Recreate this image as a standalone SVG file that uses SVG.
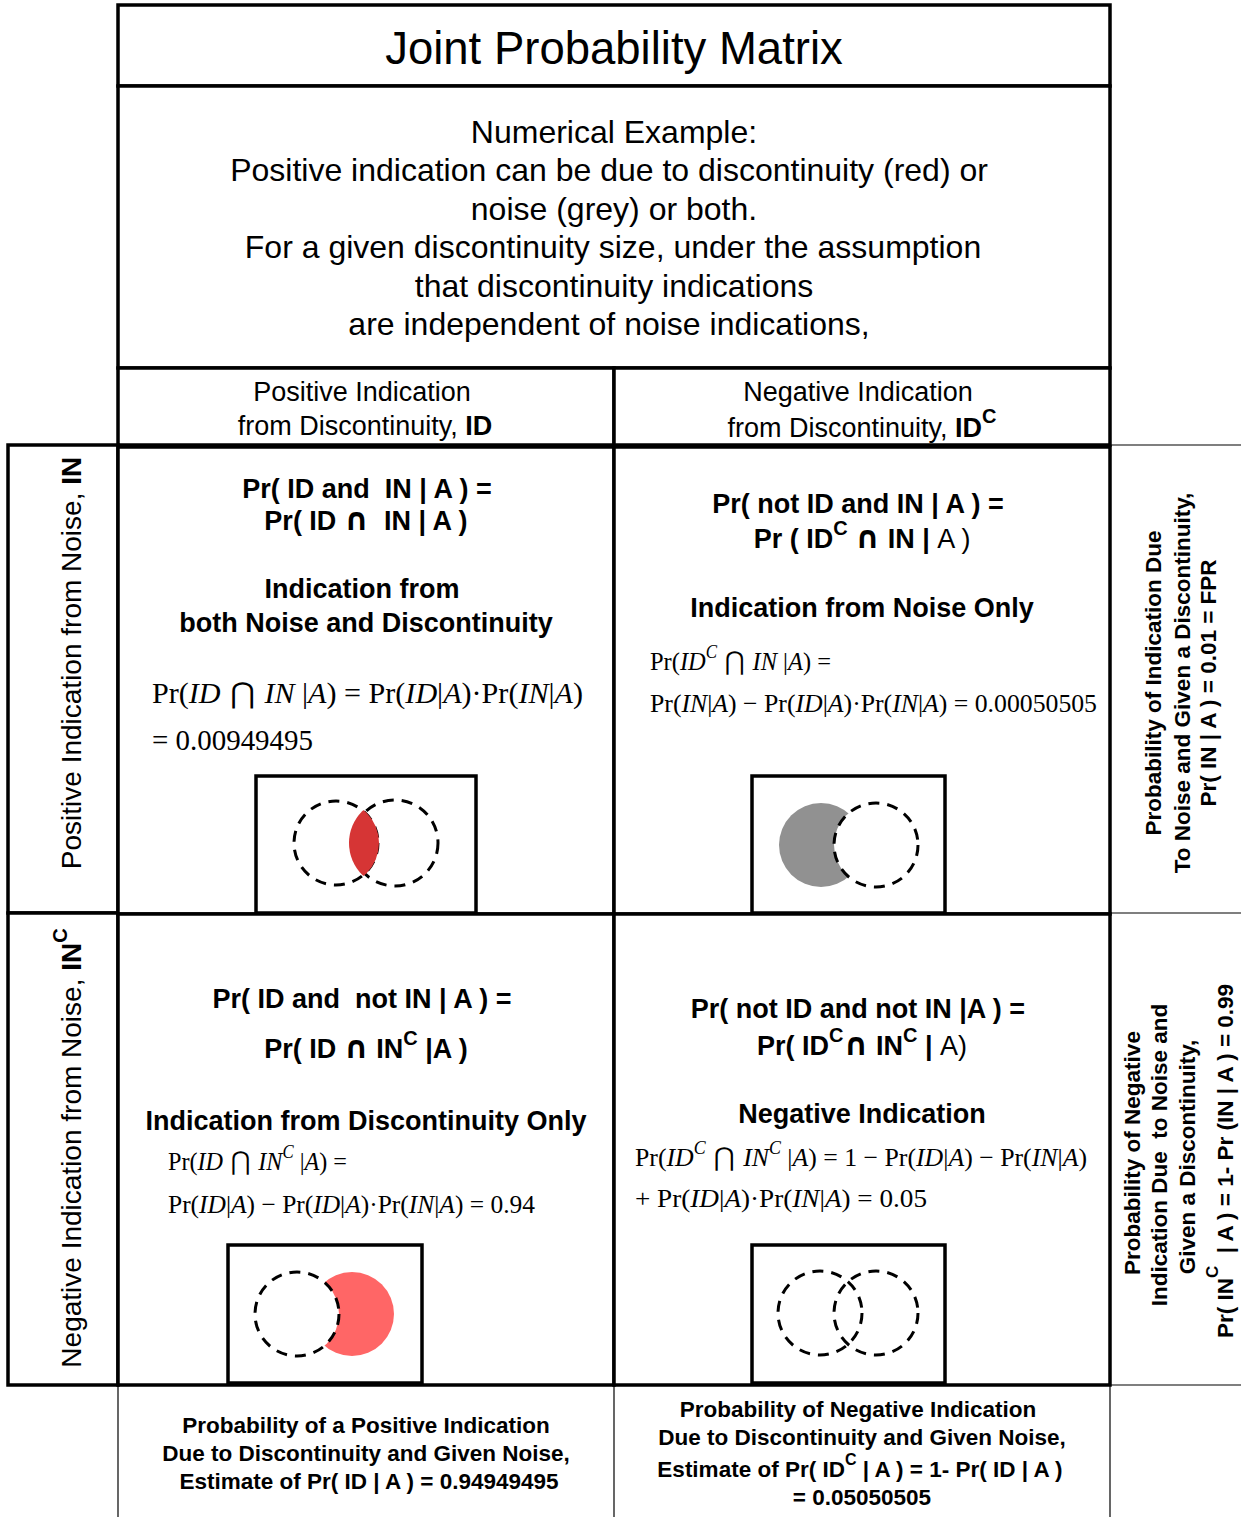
<svg xmlns="http://www.w3.org/2000/svg" width="1241" height="1517" viewBox="0 0 1241 1517">
<style>
text{font-family:"Liberation Sans",Arial,sans-serif;fill:#000;white-space:pre}
.b{font-weight:bold}
.n{font-weight:normal}
.m{font-family:"Liberation Serif","Times New Roman",serif}
.i{font-style:italic}
.cap{font-family:"DejaVu Sans",sans-serif;font-weight:normal}
.capb{font-family:"DejaVu Sans",sans-serif;font-weight:bold;font-size:31px}
.box{fill:#fff;stroke:#000;stroke-width:3.5}
.vbox{fill:#fff;stroke:#000;stroke-width:3.5}
.thin{stroke:#000;stroke-width:1.2;fill:none}
.dash{fill:none;stroke:#000;stroke-width:3;stroke-dasharray:11 8}
.dashw{fill:#fff;stroke:#000;stroke-width:3;stroke-dasharray:11 8}
.c{text-anchor:middle}
</style>
<defs>
<clipPath id="clipL"><circle cx="336" cy="843" r="43"/></clipPath>
</defs>
<rect width="1241" height="1517" fill="#fff"/>

<g id="title">
<rect class="box" x="118" y="5" width="992" height="81"/>
<text class="c" x="614" y="64" font-size="45.5">Joint Probability Matrix</text>
</g>

<g id="example">
<rect class="box" x="118" y="86" width="992" height="282"/>
<text class="c" x="614" y="143" font-size="32">Numerical Example:</text>
<text class="c" x="609" y="181" font-size="32">Positive indication can be due to discontinuity (red) or</text>
<text class="c" x="614" y="220" font-size="32">noise (grey) or both.</text>
<text class="c" x="613" y="258" font-size="32">For a given discontinuity size, under the assumption</text>
<text class="c" x="614" y="297" font-size="32">that discontinuity indications</text>
<text class="c" x="609" y="335" font-size="32">are independent of noise indications,</text>
</g>

<g id="header-pos">
<rect class="box" x="118" y="368" width="496" height="77"/>
<text class="c" x="362" y="401" font-size="27">Positive Indication</text>
<text class="c" x="365" y="435" font-size="27">from Discontinuity, <tspan class="b">ID</tspan></text>
</g>

<g id="header-neg">
<rect class="box" x="614" y="368" width="496" height="77"/>
<text class="c" x="858" y="401" font-size="27">Negative Indication</text>
<text class="c" x="862" y="437" font-size="27">from Discontinuity, <tspan class="b">ID</tspan><tspan class="b" font-size="20" dy="-14">C</tspan></text>
</g>

<g id="row-pos">
<rect class="box" x="8" y="445" width="110" height="468"/>
<text class="c" transform="translate(81,663) rotate(-90)" font-size="28">Positive Indication from Noise, <tspan class="b">IN</tspan></text>
</g>

<g id="row-neg">
<rect class="box" x="8" y="913" width="110" height="472"/>
<text class="c" transform="translate(81,1148) rotate(-90)" font-size="28">Negative Indication from Noise, <tspan class="b">IN</tspan><tspan class="b" font-size="20" dy="-14">C</tspan></text>
</g>

<g id="cell-id-in">
<rect class="box" x="118" y="447" width="496" height="467"/>
<text class="b c" x="367" y="498" font-size="27">Pr( ID and  IN | A ) =</text>
<text class="b c" x="366" y="530" font-size="27">Pr( ID <tspan class="capb">∩</tspan>  IN | A )</text>
<text class="b c" x="362" y="598" font-size="27">Indication from</text>
<text class="b c" x="366" y="632" font-size="27">both Noise and Discontinuity</text>
<text class="m" x="152" y="703" font-size="29" textLength="431" lengthAdjust="spacingAndGlyphs">Pr(<tspan class="i">ID</tspan><tspan class="cap"> ⋂ </tspan><tspan class="i">IN</tspan> |<tspan class="i">A</tspan>) = Pr(<tspan class="i">ID</tspan>|<tspan class="i">A</tspan>)·Pr(<tspan class="i">IN</tspan>|<tspan class="i">A</tspan>)</text>
<text class="m" x="152" y="750" font-size="29" textLength="161" lengthAdjust="spacingAndGlyphs">= 0.00949495</text>
<rect class="vbox" x="256" y="776" width="220" height="137"/>
<circle class="dash" cx="336" cy="843" r="42"/>
<circle class="dash" cx="395" cy="843" r="43"/>
<circle cx="394" cy="843" r="45" fill="#D63535" clip-path="url(#clipL)"/>
</g>

<g id="cell-idc-in">
<rect class="box" x="614" y="447" width="496" height="467"/>
<text class="b c" x="858" y="513" font-size="27">Pr( not ID and IN | A ) =</text>
<text class="b c" x="862" y="548" font-size="27">Pr ( ID<tspan font-size="20" dy="-13">C</tspan><tspan dy="13"> </tspan><tspan class="capb">∩</tspan> IN | <tspan class="n">A )</tspan></text>
<text class="b c" x="862" y="617" font-size="27">Indication from Noise Only</text>
<text class="m" x="650" y="670" font-size="26" textLength="181" lengthAdjust="spacingAndGlyphs">Pr(<tspan class="i">ID</tspan><tspan class="i" font-size="18" dy="-12">C</tspan><tspan dy="12" class="cap"> ⋂ </tspan><tspan class="i">IN</tspan> |<tspan class="i">A</tspan>) =</text>
<text class="m" x="650" y="712" font-size="26" textLength="447" lengthAdjust="spacingAndGlyphs">Pr(<tspan class="i">IN</tspan>|<tspan class="i">A</tspan>) − Pr(<tspan class="i">ID</tspan>|<tspan class="i">A</tspan>)·Pr(<tspan class="i">IN</tspan>|<tspan class="i">A</tspan>) = 0.00050505</text>
<rect class="vbox" x="752" y="776" width="193" height="137"/>
<circle cx="821" cy="845" r="42" fill="#919191"/>
<circle class="dashw" cx="876" cy="845" r="42"/>
</g>

<g id="cell-id-inc">
<rect class="box" x="118" y="914" width="496" height="471"/>
<text class="b c" x="362" y="1008" font-size="27">Pr( ID and  not IN | A ) =</text>
<text class="b c" x="366" y="1058" font-size="27">Pr( ID <tspan class="capb">∩</tspan> IN<tspan font-size="20" dy="-13">C</tspan><tspan dy="13"> |A )</tspan></text>
<text class="b c" x="366" y="1130" font-size="27">Indication from Discontinuity Only</text>
<text class="m" x="168" y="1170" font-size="26" textLength="179" lengthAdjust="spacingAndGlyphs">Pr(<tspan class="i">ID</tspan><tspan class="cap"> ⋂ </tspan><tspan class="i">IN</tspan><tspan class="i" font-size="18" dy="-12">C</tspan><tspan dy="12"> |</tspan><tspan class="i">A</tspan>) =</text>
<text class="m" x="168" y="1213" font-size="26" textLength="367" lengthAdjust="spacingAndGlyphs">Pr(<tspan class="i">ID</tspan>|<tspan class="i">A</tspan>) − Pr(<tspan class="i">ID</tspan>|<tspan class="i">A</tspan>)·Pr(<tspan class="i">IN</tspan>|<tspan class="i">A</tspan>) = 0.94</text>
<rect class="vbox" x="228" y="1245" width="194" height="138"/>
<circle cx="352" cy="1314" r="42" fill="#FF6666"/>
<circle class="dashw" cx="297" cy="1314" r="42"/>
</g>

<g id="cell-idc-inc">
<rect class="box" x="614" y="914" width="496" height="471"/>
<text class="b c" x="858" y="1018" font-size="27">Pr( not ID and not IN |A ) =</text>
<text class="b c" x="862" y="1055" font-size="27">Pr( ID<tspan font-size="20" dy="-13">C</tspan><tspan dy="13" class="capb">∩</tspan> IN<tspan font-size="20" dy="-13">C</tspan><tspan dy="13"> | </tspan><tspan class="n">A)</tspan></text>
<text class="b c" x="862" y="1123" font-size="27">Negative Indication</text>
<text class="m" x="635" y="1166" font-size="26" textLength="452" lengthAdjust="spacingAndGlyphs">Pr(<tspan class="i">ID</tspan><tspan class="i" font-size="18" dy="-12">C</tspan><tspan dy="12" class="cap"> ⋂ </tspan><tspan class="i">IN</tspan><tspan class="i" font-size="18" dy="-12">C</tspan><tspan dy="12"> |</tspan><tspan class="i">A</tspan>) = 1 − Pr(<tspan class="i">ID</tspan>|<tspan class="i">A</tspan>) − Pr(<tspan class="i">IN</tspan>|<tspan class="i">A</tspan>)</text>
<text class="m" x="635" y="1207" font-size="26" textLength="292" lengthAdjust="spacingAndGlyphs">+ Pr(<tspan class="i">ID</tspan>|<tspan class="i">A</tspan>)·Pr(<tspan class="i">IN</tspan>|<tspan class="i">A</tspan>) = 0.05</text>
<rect class="vbox" x="752" y="1245" width="193" height="138"/>
<circle class="dash" cx="820" cy="1313" r="42"/>
<circle class="dash" cx="876" cy="1313" r="42"/>
</g>

<g id="right-pos">
<line class="thin" x1="1110" y1="445" x2="1241" y2="445"/>
<text class="b c" transform="translate(1161,683) rotate(-90)" font-size="22.5">Probability of Indication Due</text>
<text class="b c" transform="translate(1190,683) rotate(-90)" font-size="22.5">To Noise and Given a Discontinuity,</text>
<text class="b c" transform="translate(1216,683) rotate(-90)" font-size="22.5">Pr( IN | A ) = 0.01 = FPR</text>
</g>

<g id="right-neg">
<line class="thin" x1="1110" y1="913" x2="1241" y2="913"/>
<line class="thin" x1="1110" y1="1385" x2="1241" y2="1385"/>
<text class="b c" transform="translate(1140,1153) rotate(-90)" font-size="22.5">Probability of Negative</text>
<text class="b c" transform="translate(1167,1155) rotate(-90)" font-size="22.5">Indication Due  to Noise and</text>
<text class="b c" transform="translate(1195,1157) rotate(-90)" font-size="22.5">Given a Discontinuity,</text>
<text class="b c" transform="translate(1233,1161) rotate(-90)" font-size="22.5">Pr( IN<tspan font-size="17" dy="-15">C</tspan><tspan dy="15">  | A ) = 1- Pr (IN | A ) = 0.99</tspan></text>
</g>

<g id="bottom-pos">
<line class="thin" x1="118" y1="1385" x2="118" y2="1517"/>
<line class="thin" x1="614" y1="1385" x2="614" y2="1517"/>
<text class="b c" x="366" y="1433" font-size="22.5">Probability of a Positive Indication</text>
<text class="b c" x="366" y="1461" font-size="22.5">Due to Discontinuity and Given Noise,</text>
<text class="b c" x="369" y="1489" font-size="22.5">Estimate of Pr( ID | A ) = 0.94949495</text>
</g>

<g id="bottom-neg">
<line class="thin" x1="1110" y1="1385" x2="1110" y2="1517"/>
<text class="b c" x="858" y="1417" font-size="22.5">Probability of Negative Indication</text>
<text class="b c" x="862" y="1445" font-size="22.5">Due to Discontinuity and Given Noise,</text>
<text class="b c" x="860" y="1477" font-size="22.5">Estimate of Pr( ID<tspan font-size="16" dy="-12">C</tspan><tspan dy="12"> | A ) = 1- Pr( ID | A )</tspan></text>
<text class="b c" x="862" y="1505" font-size="22.5">= 0.05050505</text>
</g>

<g id="connectors"></g>
</svg>
